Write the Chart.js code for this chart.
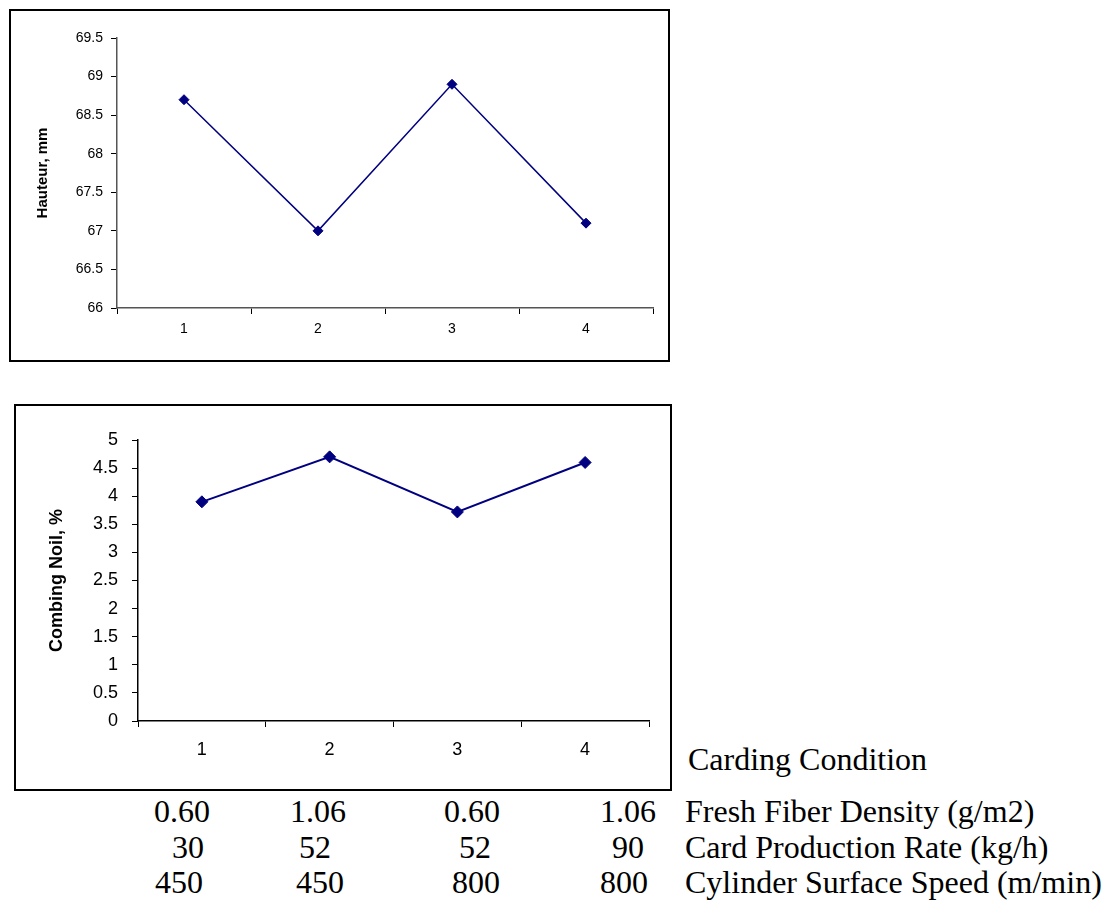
<!DOCTYPE html>
<html>
<head>
<meta charset="utf-8">
<script src="https://cdn.jsdelivr.net/npm/chart.js@4/dist/chart.umd.min.js"></script>
<style>
  body { margin: 0; background: #fff; width: 1111px; height: 903px; position: relative; overflow: hidden; }
  .box { position: absolute; border: 2px solid #000; box-sizing: border-box; background: #fff; }
  .cv { position: absolute; }
  .txt { position: absolute; font-family: "Liberation Serif", "Times New Roman", serif; font-size: 32px; line-height: 32px; color: #000; white-space: nowrap; }
</style>
</head>
<body>
<div class="box" style="left:9px; top:9px; width:661px; height:353px;"></div>
<div class="cv" style="left:11px; top:11px; width:657px; height:349px;"><canvas id="hauteurChart"></canvas></div>
<div class="box" style="left:14px; top:404px; width:658px; height:387px;"></div>
<div class="cv" style="left:16px; top:406px; width:654px; height:383px;"><canvas id="noilChart"></canvas></div>
<script>
const conditions = ['1', '2', '3', '4'];
const hauteur = [68.7, 67.0, 68.9, 67.1];
const noil = [3.9, 4.7, 3.72, 4.6];

const fiberDensity = ['0.60', '1.06', '0.60', '1.06'];
const productionRate = ['30', '52', '52', '90'];
const cylinderSpeed = ['450', '450', '800', '800'];
const rowLabels = ['Fresh Fiber Density (g/m2)', 'Card Production Rate (kg/h)', 'Cylinder Surface Speed (m/min)'];

// text placement under the charts
const rowBaselines = [822, 858, 893];
const colLeft = [[154, 290, 444, 600], [172, 299, 459, 612], [155, 296, 452, 600]];

function addText(str, x, baseline) {
    const d = document.createElement('div');
    d.className = 'txt';
    d.textContent = str;
    d.style.left = x + 'px';
    d.style.top = (baseline - 27) + 'px';
    document.body.appendChild(d);
}

addText('Carding Condition', 688, 770);
[fiberDensity, productionRate, cylinderSpeed].forEach((row, i) => {
    row.forEach((v, j) => addText(v, colLeft[i][j], rowBaselines[i]));
    addText(rowLabels[i], 685, rowBaselines[i]);
});

const FONT = '"Liberation Sans", Arial, sans-serif';
Chart.defaults.font.family = FONT;
Chart.defaults.color = '#000';

function lineChart(id, values, opt) {
    return new Chart(document.getElementById(id), {
        type: 'line',
        data: {
            labels: conditions,
            datasets: [{
                data: values,
                borderColor: '#000080',
                backgroundColor: '#000080',
                borderWidth: opt.lineWidth,
                pointStyle: 'rectRot',
                pointRadius: opt.pointRadius,
                pointBorderWidth: 1,
                pointBorderColor: '#000080',
                tension: 0
            }]
        },
        options: {
            responsive: false,
            animation: false,
            devicePixelRatio: 1,
            layout: { padding: { top: opt.padTop, right: opt.padRight, left: 0, bottom: 0 } },
            plugins: { legend: { display: false }, tooltip: { enabled: false } },
            scales: {
                x: {
                    offset: true,
                    grid: { offset: true, drawOnChartArea: false, drawTicks: true, tickLength: 6, color: '#000', lineWidth: 1 },
                    border: { display: true, color: opt.axisColor, width: opt.axisWidth },
                    ticks: { font: { size: opt.tickSize }, padding: opt.xPad, maxRotation: 0 },
                    afterFit: s => { s.height = opt.xHeight; }
                },
                y: {
                    min: opt.min, max: opt.max,
                    ticks: {
                        stepSize: 0.5, font: { size: opt.tickSize }, padding: opt.yPad,
                        callback: v => String(Math.round(v * 10) / 10)
                    },
                    grid: { drawOnChartArea: false, drawTicks: true, tickLength: 6, color: '#000', lineWidth: 1 },
                    border: { display: true, color: opt.axisColor, width: opt.axisWidth },
                    title: {
                        display: true, text: opt.title,
                        font: { size: opt.titleSize, weight: 'bold' },
                        padding: { top: opt.titlePad, bottom: 0 }
                    },
                    afterFit: s => { s.width = opt.yWidth; }
                }
            }
        }
    });
}

const c1 = document.getElementById('hauteurChart');
c1.width = 657; c1.height = 349;
lineChart('hauteurChart', hauteur, {
    min: 66, max: 69.5, title: 'Hauteur, mm',
    tickSize: 14, titleSize: 15, titlePad: 23,
    yWidth: 106, xHeight: 52, padTop: 27, padRight: 15,
    xPad: 7, yPad: 8, lineWidth: 1.5, pointRadius: 5,
    axisColor: '#555', axisWidth: 1.5
});

const c2 = document.getElementById('noilChart');
c2.width = 654; c2.height = 383;
lineChart('noilChart', noil, {
    min: 0, max: 5, title: 'Combing Noil, %',
    tickSize: 18, titleSize: 18, titlePad: 30,
    yWidth: 122, xHeight: 68, padTop: 34, padRight: 21,
    xPad: 12, yPad: 14, lineWidth: 2, pointRadius: 6,
    axisColor: '#000', axisWidth: 1.5
});
</script>
</body>
</html>
